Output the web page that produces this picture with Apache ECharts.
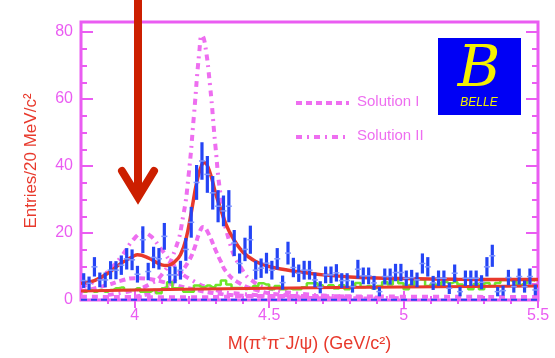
<!DOCTYPE html>
<html>
<head>
<meta charset="utf-8">
<script src="https://cdn.jsdelivr.net/npm/echarts@6/dist/echarts.min.js"></script>
<style>
html,body{margin:0;padding:0;background:#fff;}
#main{width:555px;height:358px;}
</style>
</head>
<body>
<div id="main"></div>
<script>
// Binning: 20 MeV bins from 3.80 to 5.50 GeV
const binLow = 3.80;
const binWidth = 0.02;

// Events per bin and their uncertainties
const counts = [5.8,5,9.9,6,6,8.9,8.9,10.4,12.3,12,7.7,18,8.5,12.7,12.3,19,7.5,7.5,8.9,15.1,
  23.2,35.1,41.5,37.5,32,28,26.6,28,17,10.9,15.1,18,8.9,9.5,11,8.9,12.3,5.2,14,9.7,
  8,8.9,8.9,6,3.8,7.5,7.5,8.1,5.8,5.8,4,9.2,7.2,7.2,5.1,2.5,7,7,8.2,8.2,
  6.5,6.7,6,10.9,9.9,5.1,6.5,6.5,3.5,8,2.5,6.5,6.5,6.5,5.3,9.9,13.2,2.5,2.8,6.7,
  4,7,4,7,3];
const countErr = [2.2,2,2.9,2.2,2.2,2.7,2.7,2.9,3.2,3.1,2.5,4,2.6,3.2,3.2,4,2.5,2.5,2.8,3.4,
  4.6,5.2,5.6,5.5,5,4.8,4.6,4.8,3.9,3,3.5,4.2,2.8,2.9,3.1,2.8,3.2,2.1,3.4,2.9,
  2.6,2.8,2.8,2.2,1.8,2.5,2.5,2.6,2.2,2.2,1.8,2.8,2.5,2.5,2.1,1.4,2.4,2.4,2.6,2.6,
  2.3,2.3,2.2,3,2.9,2.1,2.3,2.3,1.7,2.6,1.4,2.3,2.3,2.3,2.1,2.9,3.3,1.4,1.5,2.3,
  1.8,2.4,1.8,2.4,1.6];

// Sideband background histogram
const sideband = [2.5,3,2.5,3,2.5,3,3.5,3.7,3,3,3.5,2.5,2.5,3,2,3.5,5.3,3.5,3.5,2.5,
  2.5,4.3,3.8,4.3,3.8,4.5,5.8,4.6,3.6,3.6,3.3,3.6,4.2,5,4.6,3.2,4.2,3.2,3.5,3.2,
  3.2,3.8,5,5,4.4,3.7,4.4,3.4,4.4,3.2,3.9,5.1,3.9,4.2,3.5,4.2,5.4,4.6,6.2,5,
  3.2,4.5,6.2,6.1,4.2,4.8,4.2,5.4,5,5.4,4.6,4,3.2,4.8,3.2,5.1,4.2,5.1,6,6,
  5.5,4.5,5,6,5.8];

// Fit curves (mass in GeV, entries per bin)
const fitMass  = [3.80,3.85,3.90,3.95,4.00,4.01,4.05,4.10,4.12,4.15,4.17,4.19,4.21,4.23,4.25,4.26,4.28,4.30,4.32,4.34,4.36,4.40,4.45,4.50,4.55,4.60,4.70,4.80,4.90,5.00,5.20,5.50];
const fitTotal = [5.0,5.8,8.0,11.0,13.3,13.5,12.6,10.5,10.3,11.5,13.5,18,26,35,40.5,41,38,32,27,22.5,19.2,14.5,11.5,10,9.2,8.5,7.5,6.9,6.6,6.4,6.2,6.1];
const bkgMass  = [3.80,4.00,4.50,5.00,5.50];
const bkgFit   = [2.7,3.0,3.5,3.9,4.2];

// Solution I components
const solIMassA = [3.80,3.90,3.95,4.00,4.05,4.10,4.15,4.20,4.30,4.40,4.60,4.80];
const solILow   = [2.5,4.5,5.8,6.5,6.3,5.5,4.5,3.5,2.0,1.3,0.7,0.4];
const solIMassB = [4.00,4.10,4.15,4.17,4.20,4.22,4.24,4.255,4.27,4.30,4.32,4.34,4.38,4.45,4.55,4.70,4.90];
const solIHigh  = [1.0,3.0,6.0,8.0,11.5,15,20,21.8,20.5,15,11.5,8.5,5.5,3.0,1.5,0.8,0.4];

// Solution II components
const solIIMassA = [3.80,3.85,3.90,3.95,4.00,4.03,4.06,4.10,4.15,4.20,4.30,4.40,4.60,4.80];
const solIILow   = [4,5.5,8.5,13,18.5,20,19,15,10,6.5,3,1.8,0.8,0.4];
const solIIMassB = [3.90,4.00,4.05,4.10,4.15,4.18,4.20,4.22,4.24,4.25,4.26,4.28,4.30,4.32,4.35,4.40,4.45,4.50,4.60,4.80,5.00];
const solIIHigh  = [1.5,3,4.5,7.5,15,25,37,55,74,79,77,64,46,31,18,9,5,3.5,2,1,0.5];

// Interference term near zero
const interfMass = [3.80,4.20,4.50,5.00,5.50];
const interfVal  = [1.0,0.8,1.2,1.0,0.9];

// Axis ticks
const xMajor = [4, 4.5, 5, 5.5];
const xMinor = [3.9,4.1,4.2,4.3,4.4,4.6,4.7,4.8,4.9,5.1,5.2,5.3,5.4];
const yMajor = [0, 20, 40, 60, 80];
const yMinor = [5,10,15,25,30,35,45,50,55,65,70,75];

const MAG = '#ea5cf2';
const MAGC = '#ee6ef0';
const RED = '#e8392c';
const BLUE = '#2444f5';
const GREEN = '#6ee62a';

const pairs = (xs, ys) => xs.map((x, i) => [x, ys[i]]);
const points = counts.map((v, i) => [binLow + binWidth * (i + 0.5), v, countErr[i]]);
const sideData = sideband.map((v, i) => [binLow + binWidth * (i + 0.5), v]);

const xBase = {type:'value', min:3.8, max:5.5, splitLine:{show:false}, axisLine:{show:false}};
const yBase = {type:'value', min:0, max:83, splitLine:{show:false}, axisLine:{show:false}};
const noLabel = {show:false};

const chart = echarts.init(document.getElementById('main'), null, {renderer:'canvas'});
chart.setOption({
  animation:false,
  backgroundColor:'#fff',
  grid:{left:81, right:17, top:22, bottom:45, show:true, borderColor:MAG, borderWidth:3, backgroundColor:'transparent'},
  xAxis:[
    Object.assign({}, xBase, {position:'bottom', name:'M(π⁺π⁻J/ψ) (GeV/c²)', nameLocation:'middle', nameGap:35,
      nameTextStyle:{color:RED, fontSize:18, fontFamily:'Liberation Sans'},
      axisTick:{inside:true, length:9, lineStyle:{color:MAG, width:2}, customValues:xMajor},
      axisLabel:{color:MAG, fontSize:16, fontFamily:'Liberation Sans', margin:8, customValues:xMajor,
        formatter:v => String(Math.round(v*10)/10)}}),
    Object.assign({}, xBase, {position:'bottom', axisTick:{inside:true, length:4, lineStyle:{color:MAG, width:2}, customValues:xMinor}, axisLabel:noLabel}),
    Object.assign({}, xBase, {position:'top', axisTick:{inside:true, length:8, lineStyle:{color:MAG, width:2}, customValues:xMajor}, axisLabel:noLabel}),
    Object.assign({}, xBase, {position:'top', axisTick:{inside:true, length:4, lineStyle:{color:MAG, width:2}, customValues:xMinor}, axisLabel:noLabel})
  ],
  yAxis:[
    Object.assign({}, yBase, {position:'left', name:'Entries/20 MeV/c²', nameLocation:'middle', nameGap:41, nameRotate:90,
      nameTextStyle:{color:RED, fontSize:17, fontFamily:'Liberation Sans'},
      axisTick:{inside:true, length:12, lineStyle:{color:MAG, width:2}, customValues:yMajor},
      axisLabel:{color:MAG, fontSize:16, fontFamily:'Liberation Sans', margin:8, customValues:yMajor}}),
    Object.assign({}, yBase, {position:'left', axisTick:{inside:true, length:6, lineStyle:{color:MAG, width:2}, customValues:yMinor}, axisLabel:noLabel}),
    Object.assign({}, yBase, {position:'right', axisTick:{inside:true, length:12, lineStyle:{color:MAG, width:2}, customValues:yMajor}, axisLabel:noLabel}),
    Object.assign({}, yBase, {position:'right', axisTick:{inside:true, length:6, lineStyle:{color:MAG, width:2}, customValues:yMinor}, axisLabel:noLabel})
  ],
  series:[
    {type:'line', data:pairs(interfMass, interfVal), smooth:true, symbol:'none', lineStyle:{color:MAGC, width:4, type:[6,5]}},
    {type:'line', data:pairs(solIMassA, solILow), smooth:true, symbol:'none', lineStyle:{color:MAGC, width:4, type:[6,4]}},
    {type:'line', data:pairs(solIMassB, solIHigh), smooth:true, symbol:'none', lineStyle:{color:MAGC, width:4, type:[6,4]}},
    {type:'line', data:pairs(solIIMassA, solIILow), smooth:true, symbol:'none', lineStyle:{color:MAGC, width:4, type:[6,5,2,5]}},
    {type:'line', data:pairs(solIIMassB, solIIHigh), smooth:true, symbol:'none', lineStyle:{color:MAGC, width:4, type:[6,5,2,5]}},
    {type:'line', data:[[3.8,0.1],[5.5,0.1]], symbol:'none', lineStyle:{color:BLUE, width:2, type:[6,4]}},
    {type:'line', data:sideData, step:'middle', symbol:'none', lineStyle:{color:GREEN, width:2.5}},
    {type:'line', data:pairs(bkgMass, bkgFit), smooth:true, symbol:'none', lineStyle:{color:RED, width:3}},
    {type:'line', data:pairs(fitMass, fitTotal), smooth:0.4, symbol:'none', lineStyle:{color:RED, width:3.5}},
    {type:'custom', data:points, z:5,
      renderItem:function(params, api){
        const x = api.value(0), v = api.value(1), e = api.value(2);
        const top = api.coord([x, v + e]);
        const bot = api.coord([x, Math.max(v - e, 0)]);
        const c = api.coord([x, v]);
        return {type:'group', children:[
          {type:'line', shape:{x1:top[0], y1:top[1], x2:bot[0], y2:bot[1]}, style:{stroke:BLUE, lineWidth:3.2}},
          {type:'line', shape:{x1:c[0]-3, y1:c[1], x2:c[0]+3, y2:c[1]}, style:{stroke:'#7d93ff', lineWidth:1.5}}
        ]};
      }}
  ],
  graphic:[
    // legend
    {type:'line', shape:{x1:296, y1:103, x2:349, y2:103}, style:{stroke:MAGC, lineWidth:4, lineDash:[6,4]}},
    {type:'text', left:357, top:94, style:{text:'Solution I', fill:MAGC, font:'15px "Liberation Sans"'}},
    {type:'line', shape:{x1:296, y1:137, x2:349, y2:137}, style:{stroke:MAGC, lineWidth:4, lineDash:[6,5,2,5]}},
    {type:'text', left:357, top:128, style:{text:'Solution II', fill:MAGC, font:'15px "Liberation Sans"'}},
    // experiment logo
    {type:'rect', shape:{x:438, y:38, width:83, height:77}, style:{fill:'#0000f5'}},
    {type:'text', x:479, y:42, style:{text:'B', fill:'#f5f000', font:'italic 58px "DejaVu Serif"', align:'center', verticalAlign:'top'}},
    {type:'text', x:479, y:97, style:{text:'BELLE', fill:'#f5f000', font:'italic 12px "Liberation Sans"', align:'center', verticalAlign:'top'}},
    // arrow marking the lower-mass structure
    {type:'line', shape:{x1:138, y1:0, x2:138, y2:196}, style:{stroke:'#cc1f00', lineWidth:8}},
    {type:'polyline', shape:{points:[[122,171],[138,197],[154,171]]}, style:{stroke:'#cc1f00', lineWidth:8, fill:null, lineCap:'round', lineJoin:'miter'}}
  ]
});
</script>
</body>
</html>
